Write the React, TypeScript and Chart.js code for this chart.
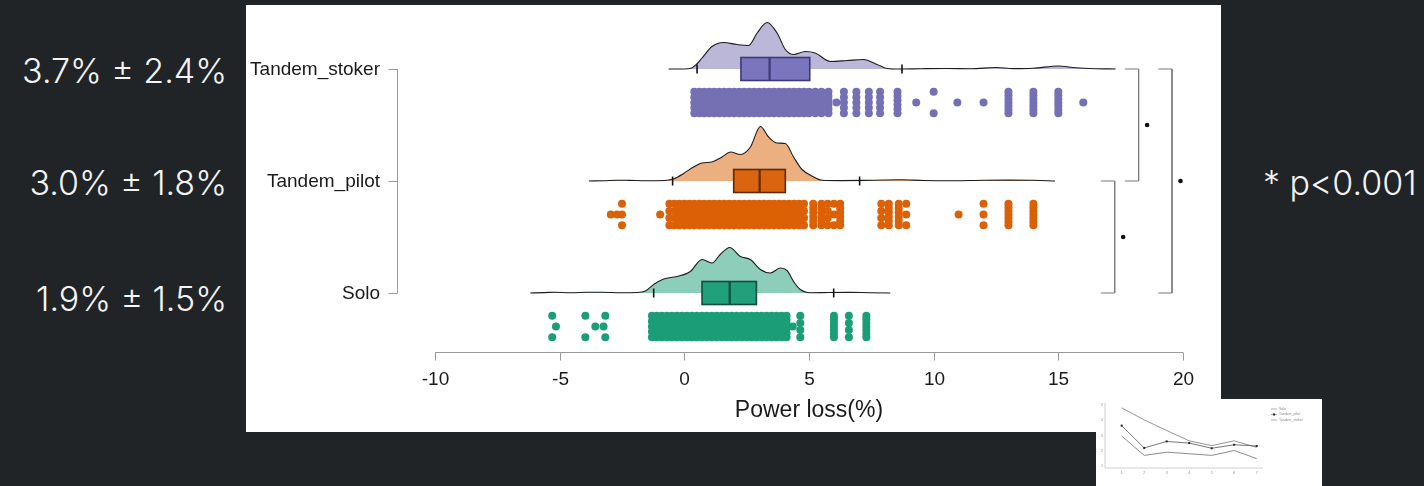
import React, { useEffect, useRef } from 'react';
import { Chart, registerables } from 'chart.js';

Chart.register(...registerables);

// ---------------- data ----------------
const CATEGORIES = ['Tandem_stoker', 'Tandem_pilot', 'Solo'];
const CATEGORY_LEVELS = [3, 2, 1];
const X_TICKS = [-10, -5, 0, 5, 10, 15, 20];
const X_TITLE = 'Power loss(%)';
const SUMMARY_LABELS = ['3.7% ± 2.4%', '3.0% ± 1.8%', '1.9% ± 1.5%'];
const SIGNIFICANCE_NOTE = '* p<0.001';

// half-violin densities (relative height)
const STOKER_DENSITY_X = [-0.63, 0.0, 0.3, 0.5, 0.71, 1.11, 1.58, 2.11, 2.58, 2.92, 3.32, 3.72, 4.05, 4.38, 4.85, 5.25, 5.86, 6.53, 7.19, 7.73, 8.13, 8.6, 9.5, 10.5, 11.5, 12.5, 13.2, 14.0, 15.0, 15.7, 16.5, 17.3];
const STOKER_DENSITY = [0, 0, 0.02, 0.1, 0.22, 0.45, 0.53, 0.49, 0.47, 0.72, 0.93, 0.72, 0.39, 0.29, 0.35, 0.32, 0.15, 0.17, 0.19, 0.09, 0.01, 0, 0.006, 0.01, 0.006, 0.03, 0.008, 0.016, 0.06, 0.024, 0.006, 0];

const PILOT_DENSITY_X = [-3.83, -3.2, -2.7, -2.2, -1.5, -0.8, -0.45, -0.03, 0.37, 0.71, 1.11, 1.51, 1.85, 2.25, 2.65, 3.05, 3.38, 3.72, 4.05, 4.38, 4.72, 5.19, 5.52, 6.3, 7.2, 8.0, 8.7, 9.6, 10.8, 12.0, 13.0, 14.0, 14.87];
const PILOT_DENSITY = [0, 0.006, 0.016, 0.012, 0.006, 0.01, 0.04, 0.15, 0.28, 0.36, 0.38, 0.48, 0.58, 0.53, 0.68, 1.09, 0.88, 0.76, 0.75, 0.48, 0.23, 0.08, 0.014, 0.008, 0.012, 0.02, 0.024, 0.01, 0.006, 0.016, 0.018, 0.014, 0];

const SOLO_DENSITY_X = [-6.18, -5.6, -5.2, -4.6, -3.9, -3.3, -2.6, -1.9, -1.56, -1.23, -0.83, -0.29, 0.24, 0.71, 1.11, 1.44, 1.82, 2.25, 2.65, 3.05, 3.45, 3.85, 4.12, 4.38, 4.65, 5.05, 5.8, 6.6, 7.4, 8.26];
const SOLO_DENSITY = [0, 0.008, 0.016, 0.006, 0.014, 0.016, 0.006, 0.01, 0.04, 0.17, 0.28, 0.33, 0.43, 0.67, 0.6, 0.77, 0.91, 0.73, 0.67, 0.47, 0.4, 0.5, 0.45, 0.23, 0.07, 0.006, 0.01, 0.012, 0.006, 0];

// box plots: [whisker low, Q1, median, Q3, whisker high]
const STOKER_BOX = [0.51, 2.27, 3.42, 5.03, 8.73];
const PILOT_BOX = [-0.47, 1.98, 3.02, 4.05, 7.03];
const SOLO_BOX = [-1.23, 0.71, 1.82, 2.89, 5.99];

// raw observations: value and number of observations at that value
const STOKER_VALUES = [0.4, 0.6, 0.8, 1.0, 1.2, 1.4, 1.6, 1.8, 2.0, 2.2, 2.4, 2.6, 2.8, 3.0, 3.2, 3.4, 3.6, 3.8, 4.0, 4.2, 4.4, 4.6, 4.8, 5.0, 5.25, 5.5, 5.78, 6.1, 6.4, 6.9, 7.4, 7.85, 8.55, 9.3, 10.0, 10.95, 12.0, 13.0, 14.0, 15.0, 16.0];
const STOKER_COUNTS = [5, 6, 6, 6, 6, 6, 6, 6, 6, 6, 6, 6, 6, 6, 6, 6, 6, 6, 6, 6, 6, 6, 6, 6, 6, 5, 6, 1, 5, 5, 5, 5, 6, 1, 2, 1, 1, 7, 7, 7, 1];

const PILOT_VALUES = [-2.95, -2.7, -2.5, -0.97, -0.6, -0.4, -0.2, 0.0, 0.2, 0.4, 0.6, 0.8, 1.0, 1.2, 1.4, 1.6, 1.8, 2.0, 2.2, 2.4, 2.6, 2.8, 3.0, 3.2, 3.4, 3.6, 3.8, 4.0, 4.2, 4.4, 4.6, 4.8, 5.17, 5.5, 5.75, 6.0, 6.25, 7.9, 8.2, 8.6, 8.9, 11.0, 12.0, 13.0, 14.0];
const PILOT_COUNTS = [1, 1, 3, 1, 4, 4, 6, 6, 6, 6, 6, 6, 6, 6, 6, 6, 6, 6, 6, 6, 6, 6, 6, 6, 6, 6, 6, 6, 6, 6, 6, 4, 6, 6, 4, 3, 6, 4, 6, 6, 3, 1, 3, 7, 7];

const SOLO_VALUES = [-5.3, -5.15, -3.97, -3.57, -3.24, -3.17, -1.3, -1.1, -0.9, -0.7, -0.5, -0.3, -0.1, 0.1, 0.3, 0.5, 0.7, 0.9, 1.1, 1.3, 1.5, 1.7, 1.9, 2.1, 2.3, 2.5, 2.7, 2.9, 3.1, 3.3, 3.5, 3.7, 3.9, 4.1, 4.35, 4.65, 6.0, 6.6, 7.3];
const SOLO_COUNTS = [2, 1, 2, 1, 1, 2, 5, 6, 6, 6, 6, 6, 6, 6, 6, 6, 6, 6, 6, 6, 6, 6, 6, 6, 6, 6, 6, 6, 6, 6, 6, 6, 6, 6, 1, 4, 7, 4, 7];

// pairwise comparisons (indices into CATEGORIES) and bracket positions on the x scale
const COMPARISONS = [[0, 1], [1, 2], [0, 2]];
const COMPARISON_X = [18.22, 17.26, 19.56];

// thumbnail line chart
const THUMB_SESSIONS = [1, 2, 3, 4, 5, 6, 7];
const THUMB_STOKER = [4.83, 4.04, 3.34, 2.66, 2.34, 2.66, 2.23];
const THUMB_PILOT = [3.66, 2.19, 2.62, 2.51, 2.17, 2.4, 2.32];
const THUMB_SOLO = [2.98, 1.7, 1.91, 1.81, 1.7, 2.02, 1.49];
const THUMB_Y_TICKS = [1, 2, 3, 4, 5];
const THUMB_LEGEND = ['Solo', 'Tandem_pilot', 'Tandem_stoker'];

// ---------------- styles ----------------
const COLORS = ['#7570b3', '#dc6005', '#1b9e77'];
const FILLS = ['rgba(117,112,179,0.5)', 'rgba(217,95,2,0.5)', 'rgba(27,158,119,0.5)'];
const BOX_FILLS = ['#7a75bd', '#db6410', '#22a07b'];
const BOX_LINES = ['#3c3977', '#5e2a04', '#124d3c'];
const PX_PER_UNIT = 112;
const RIDGE_PX = 50;
const BAND_OFFSET_PX = 33.5;
const BAND_HALF_PX = 10.7;
const BOX_HALF_PX = 11.5;
const LABEL_FONT = '"Liberation Sans", Arial, Helvetica, sans-serif';

const GROUPS = [
  { dx: STOKER_DENSITY_X, d: STOKER_DENSITY, box: STOKER_BOX, vals: STOKER_VALUES, n: STOKER_COUNTS },
  { dx: PILOT_DENSITY_X, d: PILOT_DENSITY, box: PILOT_BOX, vals: PILOT_VALUES, n: PILOT_COUNTS },
  { dx: SOLO_DENSITY_X, d: SOLO_DENSITY, box: SOLO_BOX, vals: SOLO_VALUES, n: SOLO_COUNTS },
];

function densityData(xs: number[], ds: number[], level: number) {
  return xs.map((x, i) => ({ x, y: level + (ds[i] * RIDGE_PX) / PX_PER_UNIT }));
}

function rainData(vals: number[], counts: number[], level: number) {
  const pts: { x: number; y: number }[] = [];
  vals.forEach((v, i) => {
    const n = counts[i];
    for (let k = 0; k < n; k++) {
      const off = n === 1 ? 0 : -BAND_HALF_PX + (2 * BAND_HALF_PX * k) / (n - 1);
      pts.push({ x: v, y: level - (BAND_OFFSET_PX + off) / PX_PER_UNIT });
    }
  });
  return pts;
}

const rainPlugin = {
  id: 'rainExtras',
  afterDatasetsDraw(chart: any) {
    const { ctx, chartArea } = chart;
    const x = chart.scales.x;
    const y = chart.scales.y;
    ctx.save();
    // boxes and whisker ends
    GROUPS.forEach((g, gi) => {
      const yc = y.getPixelForValue(CATEGORY_LEVELS[gi]);
      const [lo, q1, med, q3, hi] = g.box;
      ctx.strokeStyle = '#111';
      ctx.lineWidth = 1.6;
      [lo, hi].forEach((v) => {
        const px = x.getPixelForValue(v);
        ctx.beginPath();
        ctx.moveTo(px, yc - 4.5);
        ctx.lineTo(px, yc + 4.5);
        ctx.stroke();
      });
      const x1 = x.getPixelForValue(q1);
      const x3 = x.getPixelForValue(q3);
      ctx.fillStyle = BOX_FILLS[gi];
      ctx.fillRect(x1, yc - BOX_HALF_PX, x3 - x1, 2 * BOX_HALF_PX);
      ctx.strokeStyle = BOX_LINES[gi];
      ctx.lineWidth = 1.6;
      ctx.strokeRect(x1, yc - BOX_HALF_PX, x3 - x1, 2 * BOX_HALF_PX);
      const xm = x.getPixelForValue(med);
      ctx.lineWidth = 2.2;
      ctx.beginPath();
      ctx.moveTo(xm, yc - BOX_HALF_PX);
      ctx.lineTo(xm, yc + BOX_HALF_PX);
      ctx.stroke();
    });

    // x axis (R style)
    const axY = chartArea.bottom + 0.5;
    ctx.strokeStyle = '#9a9a9a';
    ctx.lineWidth = 1;
    ctx.beginPath();
    ctx.moveTo(x.getPixelForValue(X_TICKS[0]), axY);
    ctx.lineTo(x.getPixelForValue(X_TICKS[X_TICKS.length - 1]), axY);
    ctx.stroke();
    ctx.fillStyle = '#1a1a1a';
    ctx.font = `19px ${LABEL_FONT}`;
    ctx.textAlign = 'center';
    ctx.textBaseline = 'middle';
    X_TICKS.forEach((t) => {
      const px = Math.round(x.getPixelForValue(t)) + 0.5;
      ctx.beginPath();
      ctx.moveTo(px, axY);
      ctx.lineTo(px, axY + 8);
      ctx.stroke();
      ctx.fillText(String(t), px, chartArea.bottom + 28);
    });
    ctx.font = `23px ${LABEL_FONT}`;
    ctx.fillText(X_TITLE, (chartArea.left + chartArea.right) / 2, chartArea.bottom + 59);

    // y axis (R style)
    const axX = chartArea.left - 37.5;
    ctx.beginPath();
    ctx.moveTo(axX, y.getPixelForValue(CATEGORY_LEVELS[0]));
    ctx.lineTo(axX, y.getPixelForValue(CATEGORY_LEVELS[CATEGORY_LEVELS.length - 1]));
    ctx.stroke();
    ctx.font = `19px ${LABEL_FONT}`;
    ctx.textAlign = 'right';
    CATEGORIES.forEach((c, i) => {
      const py = Math.round(y.getPixelForValue(CATEGORY_LEVELS[i])) + 0.5;
      ctx.beginPath();
      ctx.moveTo(axX - 9, py);
      ctx.lineTo(axX, py);
      ctx.stroke();
      ctx.fillText(c, chartArea.left - 55, py);
    });
    ctx.restore();
  },
};

function RaincloudChart() {
  const ref = useRef<HTMLCanvasElement | null>(null);
  useEffect(() => {
    if (!ref.current) return;
    const datasets: any[] = [];
    GROUPS.forEach((g, gi) => {
      const level = CATEGORY_LEVELS[gi];
      datasets.push({
        data: densityData(g.dx, g.d, level),
        borderColor: '#1c1c1c',
        borderWidth: 1.1,
        backgroundColor: FILLS[gi],
        fill: { value: level },
        pointRadius: 0,
        cubicInterpolationMode: 'monotone',
        clip: false,
      });
      datasets.push({
        data: rainData(g.vals, g.n, level),
        showLine: false,
        pointRadius: 4,
        pointBorderWidth: 0,
        pointBackgroundColor: COLORS[gi],
        backgroundColor: COLORS[gi],
        clip: false,
      });
    });
    COMPARISONS.forEach(([a, b], i) => {
      const bx = COMPARISON_X[i];
      const ya = CATEGORY_LEVELS[a];
      const yb = CATEGORY_LEVELS[b];
      datasets.push({
        data: [
          { x: bx - 0.55, y: ya },
          { x: bx, y: ya },
          { x: bx, y: yb },
          { x: bx - 0.55, y: yb },
        ],
        borderColor: '#7a7a7a',
        borderWidth: 1,
        pointRadius: 0,
        tension: 0,
        fill: false,
        clip: false,
      });
      datasets.push({
        data: [{ x: bx + 0.34, y: (ya + yb) / 2 }],
        showLine: false,
        pointRadius: 2.3,
        pointBorderWidth: 0,
        pointBackgroundColor: '#111',
        clip: false,
      });
    });

    const chart = new Chart(ref.current, {
      type: 'line',
      data: { datasets },
      options: {
        animation: false,
        responsive: false,
        maintainAspectRatio: false,
        events: [],
        layout: { padding: { left: 189, right: 38, top: 8, bottom: 80 } },
        plugins: { legend: { display: false }, tooltip: { enabled: false } },
        scales: {
          x: { type: 'linear', min: -10, max: 20, display: false },
          y: { type: 'linear', min: 3.5 - 339 / PX_PER_UNIT, max: 3.5, display: false },
        },
      } as any,
      plugins: [rainPlugin],
    });
    return () => chart.destroy();
  }, []);
  return <canvas ref={ref} width={975} height={427} style={{ display: 'block' }} />;
}

const thumbPlugin = {
  id: 'thumbExtras',
  afterDatasetsDraw(chart: any) {
    const { ctx, chartArea } = chart;
    const x = chart.scales.x;
    const y = chart.scales.y;
    ctx.save();
    ctx.strokeStyle = '#b0b0b0';
    ctx.lineWidth = 0.6;
    ctx.beginPath();
    ctx.moveTo(chartArea.left, chartArea.top);
    ctx.lineTo(chartArea.left, chartArea.bottom);
    ctx.lineTo(chartArea.right, chartArea.bottom);
    ctx.stroke();
    ctx.fillStyle = '#8a8a8a';
    ctx.font = `3.5px ${LABEL_FONT}`;
    ctx.textAlign = 'right';
    ctx.textBaseline = 'middle';
    THUMB_Y_TICKS.forEach((t) => ctx.fillText(String(t), chartArea.left - 2, y.getPixelForValue(t)));
    ctx.textAlign = 'center';
    THUMB_SESSIONS.forEach((s) => ctx.fillText(String(s), x.getPixelForValue(s), chartArea.bottom + 5));
    ctx.textAlign = 'left';
    THUMB_LEGEND.forEach((l, i) => {
      const ly = 10 + i * 5.5;
      ctx.strokeStyle = '#777';
      ctx.beginPath();
      ctx.moveTo(175, ly);
      ctx.lineTo(181, ly);
      ctx.stroke();
      if (i === 1) {
        ctx.fillStyle = '#222';
        ctx.fillRect(177, ly - 1, 2, 2);
        ctx.fillStyle = '#8a8a8a';
      }
      ctx.fillText(l, 183, ly);
    });
    ctx.restore();
  },
};

function ThumbChart() {
  const ref = useRef<HTMLCanvasElement | null>(null);
  useEffect(() => {
    if (!ref.current) return;
    const mk = (vals: number[]) => THUMB_SESSIONS.map((s, i) => ({ x: s, y: vals[i] }));
    const chart = new Chart(ref.current, {
      type: 'line',
      data: {
        datasets: [
          { data: mk(THUMB_SOLO), borderColor: '#6e6e6e', borderWidth: 0.8, pointRadius: 0 },
          { data: mk(THUMB_PILOT), borderColor: '#555', borderWidth: 0.8, pointRadius: 1.4, pointStyle: 'rect', pointBackgroundColor: '#222', pointBorderWidth: 0 },
          { data: mk(THUMB_STOKER), borderColor: '#7a7a7a', borderWidth: 0.8, pointRadius: 0 },
        ],
      },
      options: {
        animation: false,
        responsive: false,
        maintainAspectRatio: false,
        events: [],
        layout: { padding: { left: 9, right: 59, top: 2, bottom: 18 } },
        plugins: { legend: { display: false }, tooltip: { enabled: false } },
        scales: {
          x: { type: 'linear', min: 0.26, max: 7.28, display: false },
          y: { type: 'linear', min: 0.87, max: 5.15, display: false },
        },
      } as any,
      plugins: [thumbPlugin],
    });
    return () => chart.destroy();
  }, []);
  return <canvas ref={ref} width={226} height={87} style={{ display: 'block' }} />;
}

const SUMMARY_TOPS = [54, 166, 282];
const TEXT_STYLE: React.CSSProperties = {
  position: 'absolute',
  fontSize: 34,
  fontWeight: 300,
  lineHeight: '34px',
  color: '#f4f4f4',
  whiteSpace: 'nowrap',
};

export default function App() {
  return (
    <div
      style={{
        position: 'fixed',
        left: 0,
        top: 0,
        width: 1424,
        height: 486,
        background: '#202427',
        overflow: 'hidden',
        fontFamily: 'Inter, "Noto Sans", sans-serif',
      }}
    >
      <div style={{ position: 'absolute', left: 246, top: 5, width: 975, height: 427, background: '#ffffff' }}>
        <RaincloudChart />
      </div>
      {SUMMARY_LABELS.map((s, i) => (
        <div key={s} style={{ ...TEXT_STYLE, right: 1424 - 227, top: SUMMARY_TOPS[i] }}>
          {s}
        </div>
      ))}
      <div style={{ ...TEXT_STYLE, left: 1263, top: 166 }}>{SIGNIFICANCE_NOTE}</div>
      <div style={{ position: 'absolute', left: 1096, top: 399, width: 226, height: 87, background: '#ffffff' }}>
        <ThumbChart />
      </div>
    </div>
  );
}
